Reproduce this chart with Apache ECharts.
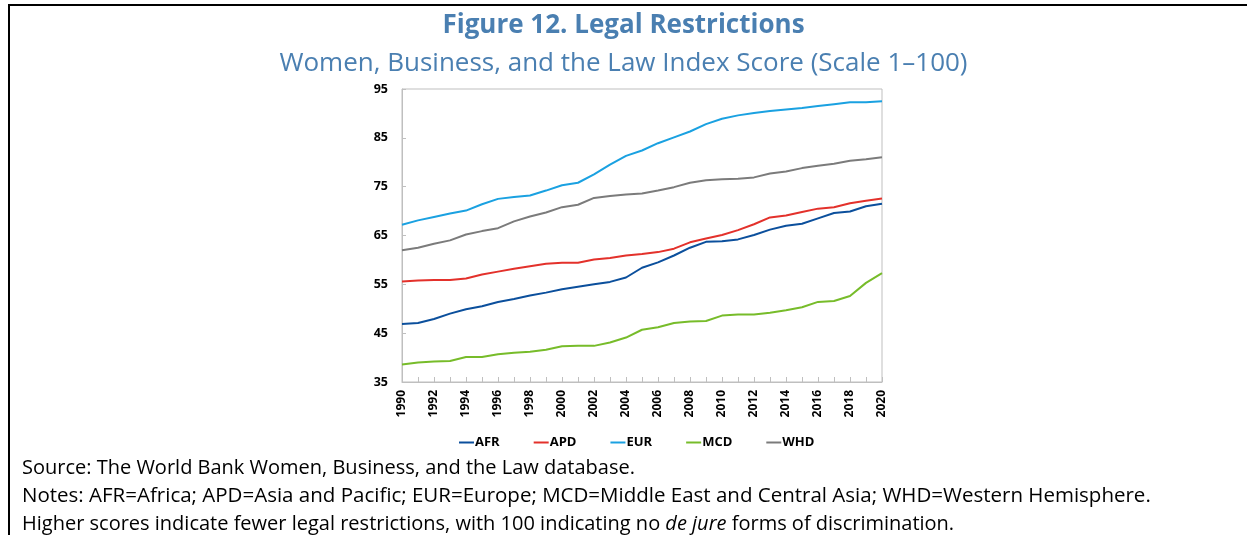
<!DOCTYPE html>
<html>
<head>
<meta charset="utf-8">
<script src="https://cdn.jsdelivr.net/npm/echarts@6/dist/echarts.min.js"></script>
<style>
html,body{margin:0;padding:0;background:#fff;}
#chart{width:1247px;height:535px;}
</style>
</head>
<body>
<div id="chart"></div>
<script>
const years = ['1990','1991','1992','1993','1994','1995','1996','1997','1998','1999','2000','2001','2002','2003','2004','2005','2006','2007','2008','2009','2010','2011','2012','2013','2014','2015','2016','2017','2018','2019','2020'];
const AFR = [46.9,47.1,47.9,49.0,49.9,50.5,51.4,52.0,52.7,53.3,54.0,54.5,55.0,55.5,56.4,58.4,59.5,60.9,62.5,63.7,63.8,64.2,65.1,66.2,67.0,67.4,68.5,69.6,69.9,71.0,71.5];
const APD = [55.6,55.8,55.9,55.9,56.2,57.0,57.6,58.2,58.7,59.2,59.4,59.4,60.1,60.4,60.9,61.2,61.6,62.3,63.6,64.4,65.1,66.1,67.3,68.7,69.1,69.8,70.5,70.8,71.6,72.1,72.6];
const EUR = [67.2,68.1,68.8,69.5,70.1,71.4,72.5,72.9,73.2,74.2,75.3,75.8,77.5,79.5,81.3,82.4,83.9,85.1,86.3,87.8,88.9,89.6,90.1,90.5,90.8,91.1,91.5,91.9,92.3,92.3,92.5];
const MCD = [38.6,39.0,39.2,39.3,40.1,40.1,40.7,41.0,41.2,41.6,42.3,42.4,42.4,43.1,44.1,45.7,46.2,47.1,47.4,47.5,48.6,48.8,48.8,49.2,49.7,50.3,51.4,51.6,52.6,55.3,57.3];
const WHD = [62.0,62.5,63.3,64.0,65.2,65.9,66.5,67.9,68.9,69.7,70.8,71.3,72.7,73.1,73.4,73.6,74.2,74.9,75.8,76.3,76.5,76.6,76.9,77.7,78.1,78.8,79.3,79.7,80.3,80.6,81.0];
const seriesNames = ['AFR','APD','EUR','MCD','WHD'];
const seriesData = [AFR, APD, EUR, MCD, WHD];
const colors = ['#0b4f9c','#e3312b','#1aa1e1','#77bc2a','#7b7b7b'];

const titleText = 'Figure 12. Legal Restrictions';
const subtitleText = 'Women, Business, and the Law Index Score (Scale 1\u2013100)';
const sourceText = 'Source: The World Bank Women, Business, and the Law database.';
const notesText = 'Notes: AFR=Africa; APD=Asia and Pacific; EUR=Europe; MCD=Middle East and Central Asia; WHD=Western Hemisphere.';
const higherPre = 'Higher scores indicate fewer legal restrictions, with 100 indicating no ';
const higherItal = 'de jure';
const higherPost = ' forms of discrimination.';

const FONT = '"Open Sans", "Noto Sans", sans-serif';
const chart = echarts.init(document.getElementById('chart'));
chart.setOption({
  animation: false,
  color: colors,
  textStyle: {fontFamily: FONT},
  title: [
    {text: titleText, left: 'center', top: 13, padding: 0,
     textStyle: {fontFamily: FONT, fontSize: 26, fontWeight: 'bold', color: '#4a7fb1'}},
    {text: subtitleText, left: 'center', top: 51, padding: 0,
     textStyle: {fontFamily: FONT, fontSize: 26, fontWeight: 'normal', color: '#4a7fb1'}}
  ],
  grid: {left: 402, right: 365, top: 89, bottom: 153, containLabel: false},
  legend: {
    data: seriesNames, top: 431, left: 454,
    itemWidth: 15, itemHeight: 2, itemGap: 34,
    icon: 'rect',
    textStyle: {fontFamily: FONT, fontSize: 13, fontWeight: 'bold', color: '#000', padding: [0,0,0,-4]}
  },
  xAxis: {
    type: 'category', data: years, boundaryGap: false,
    axisLine: {show: true, lineStyle: {color: '#bfbfbf', width: 1}},
    axisTick: {show: true, inside: true, length: 5, interval: 0, lineStyle: {color: '#bfbfbf'}},
    axisLabel: {interval: 1, rotate: 90, fontFamily: FONT, fontSize: 12, fontWeight: 'bold', color: '#000', margin: 8},
    splitLine: {show: false}
  },
  yAxis: {
    type: 'value', min: 35, max: 95, interval: 10,
    axisLine: {show: true, lineStyle: {color: '#bfbfbf', width: 1}},
    axisTick: {show: true, inside: true, length: 4, lineStyle: {color: '#bfbfbf'}},
    axisLabel: {fontFamily: FONT, fontSize: 12.5, fontWeight: 'bold', color: '#000', margin: 14},
    splitLine: {show: false}
  },
  graphic: [
    {type: 'rect', shape: {x: 402, y: 89, width: 480, height: 293}, silent: true, z: 0,
     style: {fill: 'none', stroke: '#bfbfbf', lineWidth: 1}},
    {type: 'line', shape: {x1: 8, y1: 5, x2: 1247, y2: 5}, style: {stroke: '#000', lineWidth: 2}},
    {type: 'line', shape: {x1: 9, y1: 4, x2: 9, y2: 535}, style: {stroke: '#000', lineWidth: 2}},
    {type: 'text', left: 22, top: 458,
     style: {text: sourceText, font: '20px ' + FONT, fill: '#000'}},
    {type: 'text', left: 22, top: 486,
     style: {text: notesText, font: '20.5px ' + FONT, fill: '#000'}},
    {type: 'text', left: 22, top: 514,
     style: {text: '{a|' + higherPre + '}{b|' + higherItal + '}{a|' + higherPost + '}', fill: '#000',
       rich: {a: {fontFamily: FONT, fontSize: 20, fill: '#000'}, b: {fontFamily: FONT, fontSize: 20, fontStyle: 'italic', fill: '#000'}}}}
  ],
  series: seriesNames.map((n, i) => ({
    name: n, type: 'line', data: seriesData[i], symbol: 'none', smooth: false,
    lineStyle: {width: 2, color: colors[i]}, itemStyle: {color: colors[i]}
  }))
});
</script>
</body>
</html>
